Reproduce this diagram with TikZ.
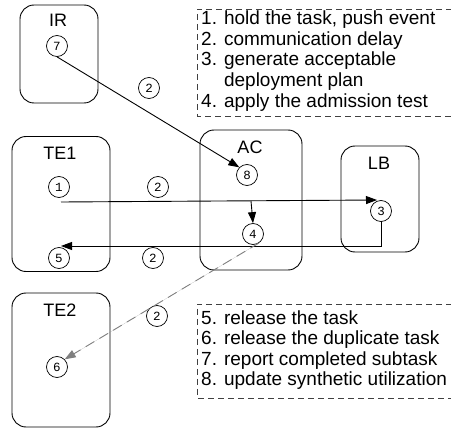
\documentclass[tikz,border=0pt]{standalone}
\usepackage{fontspec}
\setmainfont{Liberation Sans}
\newfontfamily\numfont{Liberation Mono}
\usetikzlibrary{arrows.meta}
\begin{document}
\begin{tikzpicture}[x=1pt,y=-1pt,
  box/.style={draw,line width=0.9pt,rounded corners=14pt},
  ttl/.style={font=\fontsize{18}{18}\selectfont},
  num/.style={draw,circle,line width=0.7pt,minimum size=21pt,inner sep=0pt,font=\numfont\fontsize{12.5}{12.5}\selectfont},
  listtxt/.style={anchor=west,align=left,inner sep=0pt,font=\fontsize{19}{20.6}\selectfont},
  legendbox/.style={draw=black!75,dashed,dash pattern=on 6pt off 4pt,line width=0.8pt},
  arr/.style={-{Triangle[length=11pt,width=8pt]},line width=0.9pt},
  garr/.style={-{Triangle[length=11pt,width=8pt]},draw=black!50,fill=black!50,line width=0.9pt,dash pattern=on 10pt off 6pt}]
\useasboundingbox (0,0) rectangle (451,428);
% boxes
\node[box,minimum width=78pt,minimum height=98pt] (IR) at (59,54) {};
\node[box,minimum width=98pt,minimum height=135pt] (TE1) at (61,204) {};
\node[box,minimum width=102pt,minimum height=140pt] (AC) at (251,200) {};
\node[box,minimum width=78pt,minimum height=106pt] (LB) at (380,199) {};
\node[box,minimum width=98pt,minimum height=134pt] (TE2) at (61,360) {};
% titles
\node[ttl] (tIR) at (58,20) {IR};
\node[ttl] (tTE1) at (60,153) {TE1};
\node[ttl] (tAC) at (250,147) {AC};
\node[ttl] (tLB) at (379,163) {LB};
\node[ttl] (tTE2) at (60,310) {TE2};
% numbered circles
\node[num] (c7) at (57,46) {7};
\node[num] (c8) at (247,175) {8};
\node[num] (c1) at (59,187) {1};
\node[num] (c4) at (253,234) {4};
\node[num] (c3) at (381,211) {3};
\node[num] (c5) at (59,258) {5};
\node[num] (c6) at (57,367) {6};
\node[num] (d1) at (149,88) {2};
\node[num] (d2) at (158,187) {2};
\node[num] (d3) at (153,258) {2};
\node[num] (d4) at (157,316) {2};
% legend boxes
\draw[legendbox] (452,9) -- (197,9) -- (197,116) -- (452,116);
\draw[legendbox] (452,304) -- (197,304) -- (197,398) -- (452,398);
\node[listtxt] (L1) at (201,61) {1. hold the task, push event\\2. communication delay\\3. generate acceptable\\\hphantom{3. }deployment plan\\4. apply the admission test};
\node[listtxt] (L2) at (201,350) {5. release the task\\6. release the duplicate task\\7. report completed subtask\\8. update synthetic utilization};
% connectors
\coordinate (s1) at (61,202);
\coordinate (e3) at (377,200);
\coordinate (br) at (251,201);
\coordinate (s3) at (381,221);
\coordinate (k3) at (381,246);
\coordinate (e5) at (61,246);
\coordinate (s4) at (259,243);
\draw[arr] (c7.south) -- (c8.north west);
\draw[arr] (s1) -- (e3);
\draw[arr] (br) -- (c4.north);
\draw[arr] (s3) -- (k3) -- (e5);
\draw[garr] (s4) -- (c6.north east);
\end{tikzpicture}
\end{document}
